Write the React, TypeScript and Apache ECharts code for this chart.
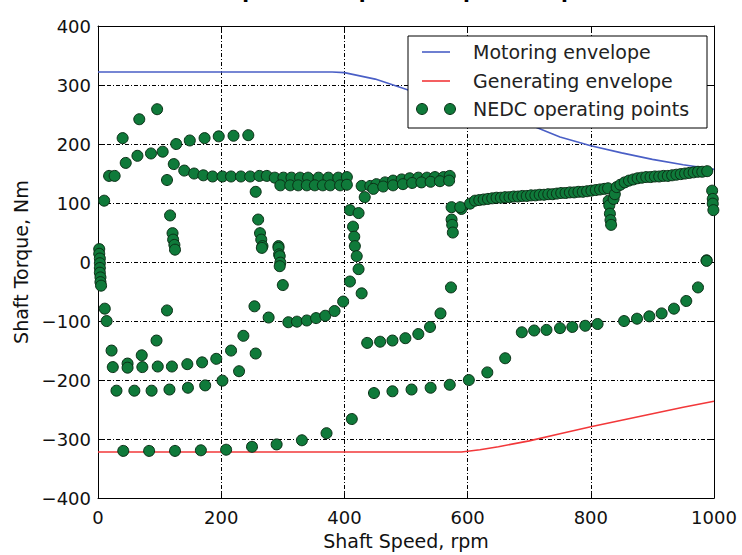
import React, { useEffect, useRef } from "react";
import * as echarts from "echarts";

const titleText = "Variances de torque envelope et les points à points de la courbe NEDC";

const xTicks = { min: 0, max: 1000, interval: 200 };
const yTicks = { min: -400, max: 400, interval: 100 };

const motoringSpeed = [0, 100, 200, 300, 380, 400, 450, 500, 550, 600, 650, 700, 750, 800, 850, 900, 950, 1000];
const motoringTorque = [322, 322, 322, 322, 322, 321, 310, 293, 275, 260, 247, 233, 212, 197, 185, 174, 165, 157];

const generatingSpeed = [0, 590, 620, 650, 700, 750, 800, 850, 900, 950, 1000];
const generatingTorque = [-322, -322, -318, -313, -303, -291, -279, -268, -257, -246, -236];

// NEDC operating points [rpm, Nm], grouped by region of the plot
const nedcLeftEdge = [
  [2, 22], [2, 14], [3, 6], [3, -2], [3, -10], [3, -18], [4, -26], [4, -34], [5, -40],
  [11, -79], [14, -100], [10, 104],
];
const nedcUrbanUpper = [
  [18, 146], [27, 146], [40, 210], [45, 168], [64, 180], [67, 242], [86, 184], [96, 259],
  [105, 187], [112, 139], [123, 166], [127, 200], [140, 155], [149, 206], [156, 150],
  [171, 147], [173, 210], [186, 145], [196, 213], [202, 145], [216, 145], [220, 214],
  [232, 145], [244, 215], [247, 145], [256, 119], [262, 146], [274, 146],
];
const nedcCruise1 = [
  [287, 143], [301, 143], [314, 143], [328, 143], [341, 143], [358, 143], [374, 143], [390, 143], [404, 144],
  [296, 130], [312, 130], [325, 130], [339, 130], [352, 130], [365, 130], [377, 130], [393, 130], [404, 131],
];
const nedcDrops = [
  [117, 79], [121, 49], [122, 38], [124, 29], [125, 21],
  [260, 72], [263, 49], [265, 38], [267, 27], [266, 24],
  [293, 27], [293, 24], [294, 13], [295, 10], [296, -1], [295, -7], [300, -39],
  [409, 88], [414, 60], [416, 43], [417, 27], [420, 10], [423, -12], [409, -33], [428, -53], [423, 83],
];
const nedcCruise2 = [
  [428, 129], [433, 110], [442, 129], [452, 132], [466, 135], [479, 138], [493, 140], [506, 142],
  [520, 143], [534, 143], [547, 144], [561, 144], [571, 146],
  [447, 124], [463, 128], [479, 130], [495, 132], [510, 134], [525, 135], [540, 136], [555, 137], [570, 138],
  [574, 93], [574, 72], [575, 63], [576, 50], [590, 90],
];
const nedcCruise3 = [
  [588, 93], [604, 99], [612, 104], [619, 105], [626, 106], [633, 107], [640, 108], [647, 109],
  [654, 109], [661, 110], [668, 110], [675, 111], [682, 111], [689, 112], [696, 112], [703, 113],
  [710, 113], [717, 114], [724, 114], [731, 115], [738, 115], [745, 116], [752, 117], [759, 117],
  [766, 118], [773, 118], [780, 119], [787, 119], [794, 120], [801, 121], [808, 122], [815, 123],
  [822, 124], [828, 125],
  [829, 104], [830, 96], [831, 82], [832, 71], [833, 63], [837, 107], [839, 115],
];
const nedcCruise4 = [
  [842, 127], [848, 131], [855, 135], [862, 138], [869, 140], [876, 142], [883, 143], [890, 144],
  [897, 144], [904, 145], [911, 145], [918, 146], [925, 146], [932, 147], [939, 148], [946, 149],
  [953, 150], [960, 151], [967, 152], [974, 153], [981, 153], [989, 154],
  [997, 121], [998, 107], [998, 99], [999, 88], [988, 3],
];
const nedcBraking = [
  [22, -150], [24, -178], [48, -172], [48, -179], [71, -158], [72, -178], [95, -133], [97, -177],
  [112, -82], [120, -177], [145, -173], [169, -170], [192, -164], [216, -150], [236, -125],
  [254, -75], [256, -155], [229, -185], [277, -94], [309, -102], [323, -101], [339, -99],
  [354, -95], [369, -91], [384, -83], [398, -67],
  [30, -218], [59, -218], [87, -218], [116, -216], [146, -213], [174, -209], [202, -201],
  [41, -320], [83, -320], [125, -320], [167, -319], [208, -318], [250, -313], [290, -309],
  [331, -302], [371, -290], [412, -266],
  [437, -137], [458, -135], [478, -133], [499, -129], [520, -122], [539, -110], [556, -87], [573, -43],
  [448, -222], [478, -219], [509, -216], [540, -213], [571, -208], [602, -200], [632, -187], [661, -163],
  [688, -119], [708, -116], [728, -115], [750, -112], [770, -110], [791, -108], [811, -105],
  [854, -100], [875, -96], [895, -92], [915, -87], [935, -79], [955, -66], [974, -43], [988, 2],
];

const legendLabels = ["Motoring envelope", "Generating envelope", "NEDC operating points"];

const BLUE = "#4a5fc6";
const RED = "#f2383a";
const GREEN = "#0f7a3a";
const EDGE = "#0b2f16";
const FONT = "DejaVu Sans";

const minus = (v: number) => (v < 0 ? "\u2212" + Math.abs(v) : String(v));

export default function App() {
  const ref = useRef<HTMLDivElement>(null);
  useEffect(() => {
    if (!ref.current) return;
    const chart = echarts.init(ref.current, undefined, { renderer: "svg" });
    const nedc = [
      ...nedcLeftEdge, ...nedcUrbanUpper, ...nedcCruise1, ...nedcDrops,
      ...nedcCruise2, ...nedcCruise3, ...nedcCruise4, ...nedcBraking,
    ];
    const grid = { left: 98, right: 28, top: 26, bottom: 49 };
    const gridLine = { show: true, lineStyle: { color: "#000", width: 1, type: [4, 2, 1, 2] } };
    const axisLine = { show: true, onZero: false, lineStyle: { color: "#000", width: 1 } };
    const tick = { show: true, inside: true, length: 6, lineStyle: { color: "#000", width: 1 } };
    const label = { color: "#111", fontSize: 18, fontFamily: FONT };
    const lx = 408, ly = 36;
    chart.setOption({
      animation: false,
      backgroundColor: "#fff",
      grid,
      xAxis: [
        {
          type: "value", position: "bottom", ...xTicks,
          axisLine, axisTick: tick, splitLine: gridLine,
          axisLabel: { ...label, margin: 10, formatter: minus },
          name: "Shaft Speed, rpm", nameLocation: "middle", nameGap: 30,
          nameTextStyle: { color: "#111", fontSize: 19, fontFamily: FONT },
        },
        {
          type: "value", position: "top", ...xTicks,
          axisLine, axisTick: tick, splitLine: { show: false }, axisLabel: { show: false },
        },
      ],
      yAxis: [
        {
          type: "value", position: "left", ...yTicks,
          axisLine, axisTick: tick, splitLine: gridLine,
          axisLabel: { ...label, margin: 7, formatter: minus },
          name: "Shaft Torque, Nm", nameLocation: "middle", nameGap: 68, nameRotate: 90,
          nameTextStyle: { color: "#111", fontSize: 19, fontFamily: FONT },
        },
        {
          type: "value", position: "right", ...yTicks,
          axisLine, axisTick: tick, splitLine: { show: false }, axisLabel: { show: false },
        },
      ],
      series: [
        {
          name: legendLabels[0], type: "line", symbol: "none", z: 2,
          data: motoringSpeed.map((s, i) => [s, motoringTorque[i]]),
          lineStyle: { color: BLUE, width: 1.6 },
        },
        {
          name: legendLabels[1], type: "line", symbol: "none", z: 2,
          data: generatingSpeed.map((s, i) => [s, generatingTorque[i]]),
          lineStyle: { color: RED, width: 1.6 },
        },
        {
          name: legendLabels[2], type: "scatter", symbolSize: 11, z: 3,
          data: nedc,
          itemStyle: { color: GREEN, borderColor: EDGE, borderWidth: 1, opacity: 1 },
          emphasis: { disabled: true },
        },
      ],
      graphic: [
        {
          type: "text", x: 50, y: -19, z: 10,
          style: { text: titleText, font: `bold 20px ${FONT}`, fill: "#000", verticalAlign: "top" },
        },
        {
          type: "rect", z: 10,
          shape: { x: lx, y: ly, width: 299, height: 92 },
          style: { fill: "#fff", stroke: "#000", lineWidth: 1 },
        },
        {
          type: "line", z: 11,
          shape: { x1: lx + 14, y1: ly + 16, x2: lx + 42, y2: ly + 16 },
          style: { stroke: BLUE, lineWidth: 1.6 },
        },
        {
          type: "line", z: 11,
          shape: { x1: lx + 14, y1: ly + 45, x2: lx + 42, y2: ly + 45 },
          style: { stroke: RED, lineWidth: 1.6 },
        },
        {
          type: "circle", z: 11,
          shape: { cx: lx + 14, cy: ly + 73, r: 5.5 },
          style: { fill: GREEN, stroke: EDGE, lineWidth: 1 },
        },
        {
          type: "circle", z: 11,
          shape: { cx: lx + 42, cy: ly + 73, r: 5.5 },
          style: { fill: GREEN, stroke: EDGE, lineWidth: 1 },
        },
        ...legendLabels.map((t, i) => ({
          type: "text", z: 11, x: lx + 65, y: ly + 16 + i * 28.5,
          style: { text: t, font: `19px ${FONT}`, fill: "#222", verticalAlign: "middle" },
        })),
      ],
    });
    return () => chart.dispose();
  }, []);
  return (
    <div
      ref={ref}
      style={{ position: "absolute", left: 0, top: 0, width: 742, height: 555, background: "#fff" }}
    />
  );
}
